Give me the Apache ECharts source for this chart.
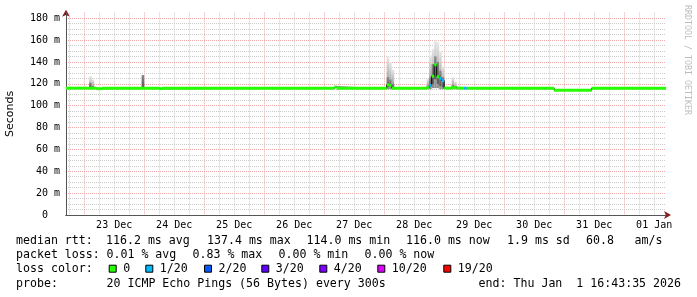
<!DOCTYPE html>
<html><head><meta charset="utf-8">
<script src="https://cdn.jsdelivr.net/npm/echarts@6/dist/echarts.min.js"></script>
<style>html,body{margin:0;padding:0;background:#fff}#c{width:697px;height:297px}</style>
</head><body><div id="c"></div>
<script>
// ---- time range ----
const startTime = '2025-12-22T16:43:35';
const endTime = '2026-01-01T16:43:35';

// ---- x tick labels (one per day, centred at noon) ----
const dayLabels = ['23 Dec','24 Dec','25 Dec','26 Dec','27 Dec','28 Dec','29 Dec','30 Dec','31 Dec','01 Jan'];
const dayMidnights = ['2025-12-23T00:00','2025-12-24T00:00','2025-12-25T00:00','2025-12-26T00:00','2025-12-27T00:00',
  '2025-12-28T00:00','2025-12-29T00:00','2025-12-30T00:00','2025-12-31T00:00','2026-01-01T00:00'];
const dayNoons = ['2025-12-23T12:00','2025-12-24T12:00','2025-12-25T12:00','2025-12-26T12:00','2025-12-27T12:00',
  '2025-12-28T12:00','2025-12-29T12:00','2025-12-30T12:00','2025-12-31T12:00','2026-01-01T12:00'];

// ---- y tick labels ----
const yTickValues = [0,20,40,60,80,100,120,140,160,180];
const yTickLabels = ['0  ','20 m','40 m','60 m','80 m','100 m','120 m','140 m','160 m','180 m'];

// ---- median rtt (ms) step intervals: start time, value, loss level index ----
const medStart = ['2025-12-22T16:43:35','2025-12-23T05:00','2025-12-23T07:00','2025-12-24T06:00','2025-12-24T07:00',
  '2025-12-27T04:00','2025-12-27T05:00','2025-12-28T01:00','2025-12-28T02:00','2025-12-28T03:00',
  '2025-12-28T17:00','2025-12-28T18:00','2025-12-28T19:00','2025-12-28T20:00','2025-12-28T21:00',
  '2025-12-28T22:00','2025-12-28T23:00','2025-12-29T00:00','2025-12-29T03:00','2025-12-29T05:00',
  '2025-12-29T08:00','2025-12-29T09:00','2025-12-30T20:00','2025-12-31T11:00'];
const medValue = [116.0,115.5,116.0,115.5,116.0,
  117.0,116.0,119.0,118.5,116.0,
  116.5,118.5,127.0,137.4,126.5,
  125.0,123.0,116.0,116.5,116.0,
  116.0,116.0,114.0,116.0];
const medLoss = [0,0,0,0,0,
  0,0,0,0,0,
  0,1,0,0,0,
  1,1,0,0,0,
  1,0,0,0];

// ---- smoke (ping spread, ms) per hourly column ----
const smokeStepHours = 1;
const smokeStart = ['2025-12-23T02:00','2025-12-23T03:00','2025-12-23T23:00',
  '2025-12-28T01:00','2025-12-28T02:00','2025-12-28T03:00',
  '2025-12-28T17:00','2025-12-28T18:00','2025-12-28T19:00','2025-12-28T20:00','2025-12-28T21:00','2025-12-28T22:00','2025-12-28T23:00',
  '2025-12-29T03:00','2025-12-29T04:00'];
const smokeLo = [115,115,116, 115,115,115, 115,115,116,116,116,115,115, 115,115];
const smokeQ1 = [117,116,116.5, 117,117,116, 116,117,120,124,120,118,117, 116,116];
const smokeQ3 = [121,118,128, 126,124,120, 118,126,138,145,140,132,126, 119,118];
const smokeHi = [127,124,128, 145,140,133, 125,146,152,160,158,150,136, 126,122];

// ---- loss colour legend ----
const lossLabels = ['0','1/20','2/20','3/20','4/20','10/20','19/20'];
const lossColors = ['#26ff00','#00b8ff','#0059ff','#5e00ff','#7e00ff','#dd00ff','#ff0000'];

// ---- legend text ----
const rttLine = ['median rtt:','116.2 ms avg','137.4 ms max','114.0 ms min','116.0 ms now','1.9 ms sd','60.8','am/s'];
const lossLine = ['packet loss:','0.01 % avg','0.83 % max','0.00 % min','0.00 % now'];
const colorLineTitle = 'loss color:';
const probeLine = ['probe:','20 ICMP Echo Pings (56 Bytes) every 300s'];
const endText = 'end: Thu Jan  1 16:43:35 2026';
const watermark = 'RRDTOOL / TOBI OETIKER';

// ---------------------------------------------------------------
const T = s => new Date(s).getTime();
const HOUR = 3600000;
const tMin = T(startTime), tMax = T(endTime);
const noonTs = dayNoons.map(T);
const midTs = dayMidnights.map(T);
const minorX = [];
for (let t = T('2025-12-22T18:00'); t < tMax; t += 6 * HOUR) {
  if (midTs.indexOf(t) < 0) minorX.push(t);
}
const minorY = [];
for (let v = 5; v < 185; v += 5) if (v % 20) minorY.push(v);

const MONO = '"DejaVu Sans Mono", monospace';
const legendFont = 11.6;

const medEnd = i => (i + 1 < medStart.length ? T(medStart[i + 1]) : tMax);
const medRows = medStart.map((s, i) => [T(s), medEnd(i), medValue[i], medLoss[i]]);

const series = [];
series.push({
  type: 'custom', name: 'smoke', silent: true, z: 1,
  xAxisIndex: 0, yAxisIndex: 0,
  data: smokeStart.map((s, i) => [T(s), T(s) + smokeStepHours * HOUR, smokeLo[i], smokeQ1[i], smokeQ3[i], smokeHi[i]]),
  encode: { x: [0, 1], y: [2, 5] },
  renderItem: function (params, api) {
    const lo = api.coord([api.value(0), api.value(2)]);
    const hi = api.coord([api.value(1), api.value(5)]);
    const q1 = api.coord([api.value(0), api.value(3)]);
    const q3 = api.coord([api.value(0), api.value(4)]);
    const left = lo[0], w = hi[0] - lo[0];
    return { type: 'group', children: [
      { type: 'rect', shape: { x: left, y: hi[1], width: w, height: lo[1] - hi[1] },
        style: { fill: new echarts.graphic.LinearGradient(0, 0, 0, 1, [
          { offset: 0, color: '#e8e8e8' }, { offset: 1, color: '#8c8c8c' }]) } },
      { type: 'rect', shape: { x: left, y: q3[1], width: w, height: q1[1] - q3[1] },
        style: { fill: new echarts.graphic.LinearGradient(0, 0, 0, 1, [
          { offset: 0, color: '#8a8a8a' }, { offset: 1, color: '#5a5a5a' }]) } }
    ] };
  }
});
series.push({
  type: 'line', name: 'median', step: 'end', showSymbol: false, silent: true, z: 3,
  xAxisIndex: 0, yAxisIndex: 0,
  data: medRows.map(r => [r[0], r[2]]).concat([[tMax, medValue[medValue.length - 1]]]),
  lineStyle: { color: '#000000', width: 1 }
});
lossLabels.forEach((lab, k) => {
  series.push({
    type: 'custom', name: lab, silent: true, z: 4,
    xAxisIndex: 0, yAxisIndex: 0,
    itemStyle: { color: lossColors[k] },
    data: medRows.filter(r => r[3] === k),
    encode: { x: [0, 1], y: 2 },
    renderItem: function (params, api) {
      const a = api.coord([api.value(0), api.value(2)]);
      const b = api.coord([api.value(1), api.value(2)]);
      return { type: 'line', shape: { x1: a[0], y1: a[1], x2: b[0], y2: b[1] },
        style: { stroke: lossColors[k], lineWidth: 3 } };
    }
  });
});

const legendLefts = [108.7, 145.3, 204, 261.3, 319.3, 377.3, 443.3];
const legends = lossLabels.map((lab, k) => ({
  left: legendLefts[k], top: 261.7, padding: 0, orient: 'horizontal',
  itemWidth: 7, itemHeight: 7, selectedMode: false,
  data: [{ name: lab, icon: 'rect' }],
  itemStyle: { borderColor: '#000', borderWidth: 1 },
  textStyle: { fontFamily: MONO, fontSize: legendFont, color: '#000', lineHeight: 14, padding: [0, 0, 0, 2] }
}));

function textEl(x, y, s, align) {
  return { type: 'text', x: x, y: y, silent: true,
    style: { text: s, fill: '#000', font: legendFont + 'px ' + MONO, align: align || 'left', verticalAlign: 'middle' } };
}
const rttX = [16, 106, 207, 306.5, 406, 507, 586, 634.5];
const lossX = [16, 106.5, 192.5, 278.5, 364.5];
const graphics = [];
rttLine.forEach((s, i) => graphics.push(textEl(rttX[i], 241, s)));
lossLine.forEach((s, i) => graphics.push(textEl(lossX[i], 255, s)));
graphics.push(textEl(16, 269, colorLineTitle));
graphics.push(textEl(16, 283.5, probeLine[0]));
graphics.push(textEl(106.5, 283.5, probeLine[1]));
graphics.push(textEl(681, 283.5, endText, 'right'));
graphics.push({ type: 'text', x: 687.5, y: 5, rotation: -Math.PI / 2, silent: true,
  style: { text: watermark, fill: '#bdbdbd', font: '8.3px ' + MONO, align: 'left', verticalAlign: 'middle' } });

const chart = echarts.init(document.getElementById('c'), null, { renderer: 'canvas' });
chart.setOption({
  animation: false,
  backgroundColor: '#ffffff',
  grid: { left: 66, right: 31, top: 12.7, bottom: 82, containLabel: false, outerBoundsMode: 'none' },
  xAxis: [
    { type: 'value', min: tMin, max: tMax, position: 'bottom', scale: true,
      axisLine: { show: true, lineStyle: { color: '#8b1a1a', width: 1 },
        symbol: ['none', 'arrow'], symbolSize: [6, 7], symbolOffset: [0, 5] },
      axisTick: { show: false, customValues: midTs },
      axisLabel: { show: true, customValues: noonTs, margin: 5, color: '#000', fontFamily: MONO, fontSize: 10,
        hideOverlap: false,
        formatter: function (v) { const i = noonTs.indexOf(v); return i < 0 ? '' : dayLabels[i]; } },
      splitLine: { show: true, lineStyle: { color: '#eea8a8', width: 1, type: [1, 1] } } },
    { type: 'value', min: tMin, max: tMax, position: 'bottom', z: 1, scale: true,
      axisLine: { show: true, lineStyle: { color: '#555555', width: 1 } },
      axisTick: { show: false, customValues: minorX },
      axisLabel: { show: false },
      splitLine: { show: true, lineStyle: { color: '#cccccc', width: 1, type: [1, 1] } } }
  ],
  yAxis: [
    { type: 'value', min: 0, max: 185, interval: 20, position: 'left',
      name: 'Seconds', nameLocation: 'middle', nameRotate: 90, nameGap: 50,
      nameTextStyle: { fontFamily: '"DejaVu Sans"', fontSize: 11, color: '#000' },
      axisLine: { show: true, lineStyle: { color: '#8b1a1a', width: 1 },
        symbol: ['none', 'arrow'], symbolSize: [6, 7], symbolOffset: [0, 3] },
      axisTick: { show: false },
      axisLabel: { margin: 6, color: '#000', fontFamily: MONO, fontSize: 10,
        formatter: function (v) { const i = yTickValues.indexOf(v); return i < 0 ? '' : yTickLabels[i]; } },
      splitLine: { show: true, showMinLine: false, showMaxLine: false,
        lineStyle: { color: '#eea8a8', width: 1, type: [1, 1] } } },
    { type: 'value', min: 0, max: 185, position: 'left', z: 1,
      axisLine: { show: true, lineStyle: { color: '#555555', width: 1 } },
      axisTick: { show: false, customValues: minorY },
      axisLabel: { show: false },
      splitLine: { show: true, lineStyle: { color: '#cccccc', width: 1, type: [1, 1] } } }
  ],
  legend: legends,
  graphic: graphics,
  series: series
});
</script>
</body></html>
